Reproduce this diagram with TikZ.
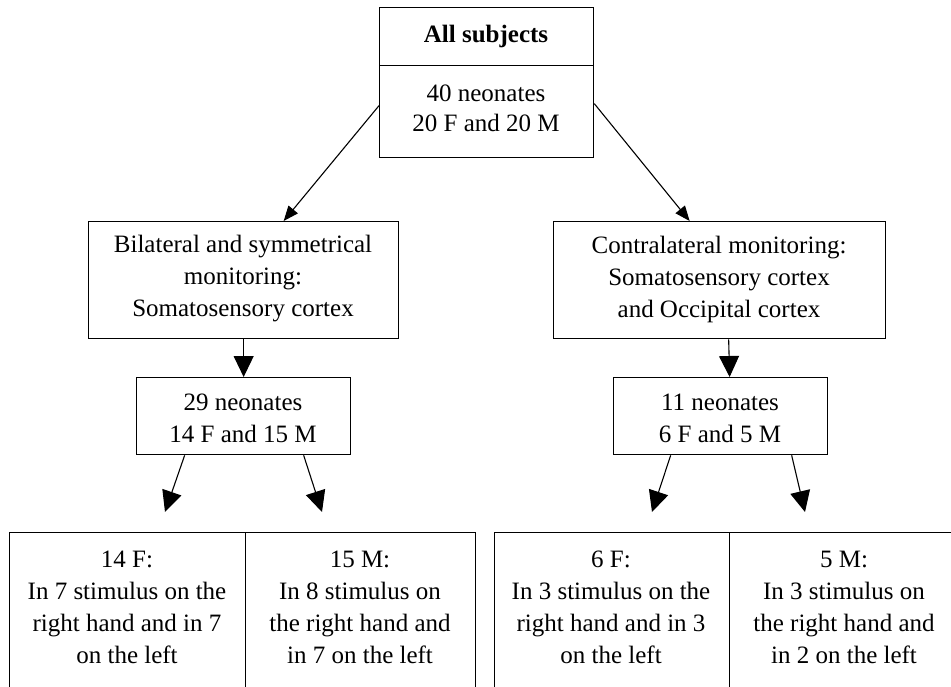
\documentclass[tikz,border=0pt]{standalone}
\usepackage{fontspec}
\setmainfont{Liberation Serif}
\usetikzlibrary{arrows.meta}
\begin{document}
\begin{tikzpicture}[x=1pt,y=-1pt,
  box/.style={draw, line width=1.3pt, inner sep=0pt, anchor=north west},
  txt/.style={align=center, inner sep=0pt, font=\fontsize{25}{32}\selectfont},
  bigarrow/.style={line width=1.1pt, -{Triangle[length=21pt,width=20pt]}},
  smallarrow/.style={line width=1.1pt, -{Triangle[length=15pt,width=12pt]}}]
\clip (0,0) rectangle (951,686);
\fill[white] (0,0) rectangle (951,686);
% top box
\node[box, minimum width=214pt, minimum height=58pt] (allA) at (379,7) {};
\node[box, minimum width=214pt, minimum height=92pt] (allB) at (379,65) {};
\node[txt, font=\fontsize{25}{32}\selectfont\bfseries] (allAt) at (486,36) {All subjects};
\node[txt, font=\fontsize{25}{30}\selectfont] (allBt) at (486,108) {40 neonates\\20 F and 20 M};
% second level
\node[box, minimum width=310pt, minimum height=117pt] (bil) at (88,221) {};
\node[txt] (bilt) at (243,279) {Bilateral and symmetrical\\monitoring:\\Somatosensory cortex};
\node[box, minimum width=332pt, minimum height=117pt] (con) at (553,221) {};
\node[txt] (cont) at (719,279) {Contralateral monitoring:\\Somatosensory cortex\\and Occipital cortex};
% third level
\node[box, minimum width=214pt, minimum height=77pt] (n29) at (136,377) {};
\node[txt] (n29t) at (243,418) {29 neonates\\14 F and 15 M};
\node[box, minimum width=214pt, minimum height=77pt] (n11) at (613,377) {};
\node[txt] (n11t) at (720,418) {11 neonates\\6 F and 5 M};
% bottom boxes
\node[box, minimum width=236pt, minimum height=200pt] (b1) at (9,532) {};
\node[box, minimum width=230pt, minimum height=200pt] (b2) at (245,532) {};
\node[box, minimum width=235pt, minimum height=200pt] (b3) at (494,532) {};
\node[box, minimum width=231pt, minimum height=200pt] (b4) at (729,532) {};
\node[txt] (b1t) at (127,607) {14 F:\\In 7 stimulus on the\\right hand and in 7\\on the left};
\node[txt] (b2t) at (360,607) {15 M:\\In 8 stimulus on\\the right hand and\\in 7 on the left};
\node[txt] (b3t) at (611,607) {6 F:\\In 3 stimulus on the\\right hand and in 3\\on the left};
\node[txt] (b4t) at (844,607) {5 M:\\In 3 stimulus on\\the right hand and\\in 2 on the left};
% arrow end points
\coordinate (t1) at (165,512);
\coordinate (t2) at (322,512);
\coordinate (t3) at (652,512);
\coordinate (t4) at (805,512);
% connectors
\draw[smallarrow] ([yshift=6pt]allB.west) -- ([xshift=40pt]bil.north);
\draw[smallarrow] ([yshift=8pt]allB.east) -- ([xshift=-30pt]con.north);
\draw[bigarrow] (bil.south) -- (n29.north);
\draw[bigarrow] ([xshift=9pt]con.south) -- ([xshift=9pt]n11.north);
\draw[bigarrow] ([xshift=-59pt]n29.south) -- (t1);
\draw[bigarrow] ([xshift=60pt]n29.south) -- (t2);
\draw[bigarrow] ([xshift=-50pt]n11.south) -- (t3);
\draw[bigarrow] ([xshift=71pt]n11.south) -- (t4);
\end{tikzpicture}
\end{document}
